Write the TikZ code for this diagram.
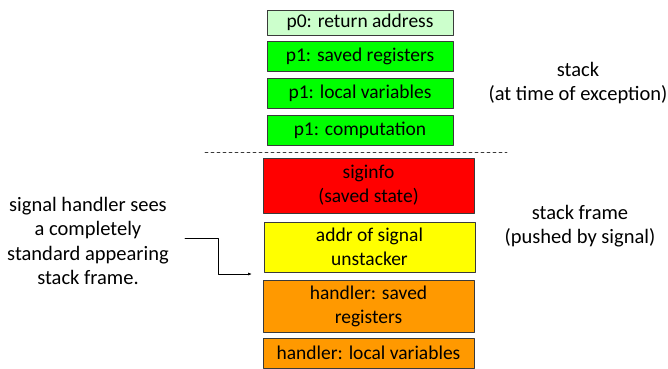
\documentclass[tikz,border=0pt]{standalone}
\usepackage{fontspec}
\setmainfont{Carlito}
\usepackage{tikz}
\usetikzlibrary{arrows.meta,positioning}
\definecolor{palegreen}{HTML}{CCFFCC}
\definecolor{brightgreen}{HTML}{00FF00}
\definecolor{sigred}{HTML}{FF0000}
\definecolor{sigyellow}{HTML}{FFFF00}
\definecolor{sigorange}{HTML}{FF9900}
\definecolor{edge}{HTML}{3A3A3A}
\tikzset{
    every picture/.style={line cap=round,line join=round},
    stackcell/.style={draw=edge,line width=0.8pt,minimum width=186pt,
      minimum height=30pt,inner sep=1pt,outer sep=0pt,align=center,
      font=\fontsize{19.5}{24}\selectfont},
    framecell/.style={stackcell,minimum width=211pt},
    note/.style={align=center,font=\fontsize{20.5}{24.5}\selectfont},
    pointer/.style={-{Latex[length=4pt,width=3pt]},draw=black,line width=0.7pt}
}
\begin{document}
\begin{tikzpicture}[x=1pt,y=-1pt]
  \useasboundingbox (0,0) rectangle (668,368);
  % stack at time of exception
  \node[stackcell,fill=palegreen,minimum height=25pt] (ret) at (360,22.5) {p0: return address};
  \node[stackcell,fill=brightgreen] (saved) at (360,56) {p1: saved registers};
  \node[stackcell,fill=brightgreen] (locals) at (360,93) {p1: local variables};
  \node[stackcell,fill=brightgreen] (comp) at (360,130) {p1: computation};
  \coordinate (cutL) at (205,152);
  \coordinate (cutR) at (507,152);
  \draw[dashed,line width=0.6pt,edge] (cutL) -- (cutR);
  % frame pushed by signal
  \node[framecell,fill=sigred,minimum height=55pt] (info) at (368.5,185.5) {siginfo\\(saved state)};
  \node[framecell,fill=sigyellow,minimum height=50pt] (unstk) at (369.5,247) {addr of signal\\unstacker};
  \node[framecell,fill=sigorange,minimum height=52pt] (hsaved) at (368.5,306) {handler: saved\\registers};
  \node[framecell,fill=sigorange] (hlocals) at (368.5,353) {handler: local variables};
  % labels
  \node[note] (stk) at (578,83) {stack\\(at time of exception)};
  \node[note] (frm) at (580,226) {stack frame\\(pushed by signal)};
  \node[note] (sees) at (88,241) {signal handler sees\\a completely\\standard appearing\\stack frame.};
  \coordinate (from) at (185,238);
  \coordinate (to) at (252,274);
  \draw[pointer] (from) -| (218,274) -- (to);
\end{tikzpicture}
\end{document}
